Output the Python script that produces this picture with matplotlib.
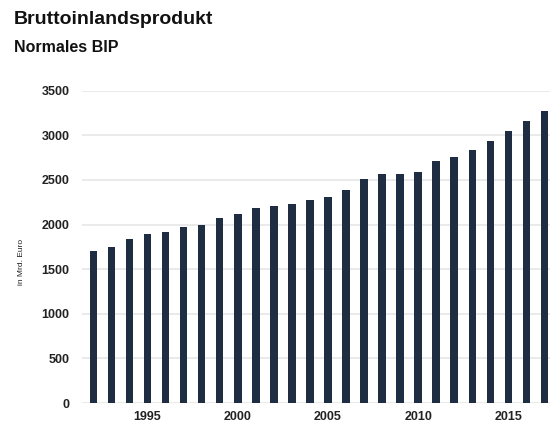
import matplotlib
matplotlib.use("Agg")
import matplotlib.pyplot as plt

# nominal GDP, bn euro
years = list(range(1992, 2018))
gdp = [1707, 1752, 1834, 1898, 1916, 1969, 1998, 2077, 2122, 2185, 2211, 2226, 2275,
       2313, 2392, 2509, 2570, 2570, 2589, 2713, 2762, 2838, 2940, 3053, 3166, 3272]
year_ticks = [1995, 2000, 2005, 2010, 2015]
value_ticks = [0, 500, 1000, 1500, 2000, 2500, 3000, 3500]

title = "Bruttoinlandsprodukt"
subtitle = "Normales BIP"
ylabel = "in Mrd. Euro"

plt.rcParams['font.family'] = ['Liberation Sans', 'DejaVu Sans']

fig = plt.figure(figsize=(5.56, 4.23), dpi=100)
ax = fig.add_axes([0.1475, 0.047, 0.8415, 0.7386])

ax.bar(years, gdp, width=0.42, color='#1f2d42', zorder=3)

ax.set_xlim(1991.37, 2017.3)
ax.set_ylim(0, 3500)
ax.set_xticks(year_ticks)
ax.set_yticks(value_ticks)
ax.set_xticklabels([str(y) for y in year_ticks], fontsize=9, fontweight='bold', color='#222222')
ax.set_yticklabels([str(v) for v in value_ticks], fontsize=9, fontweight='bold', color='#222222')
ax.tick_params(length=0)
ax.tick_params(axis='y', pad=9)
ax.tick_params(axis='x', pad=6)

ax.grid(axis='y', color='#e6e6e6', linewidth=1.2, zorder=0)
for s in ax.spines.values():
    s.set_visible(False)

fig.text(0.025, 0.955, title, fontsize=14, fontweight='bold', color='#111111', va='center')
fig.text(0.025, 0.888, subtitle, fontsize=11.5, fontweight='bold', color='#111111', va='center')
fig.text(0.038, 0.38, ylabel, fontsize=6, rotation=90, color='#222222', va='center', ha='center')

fig.savefig("out.png", dpi=100)
